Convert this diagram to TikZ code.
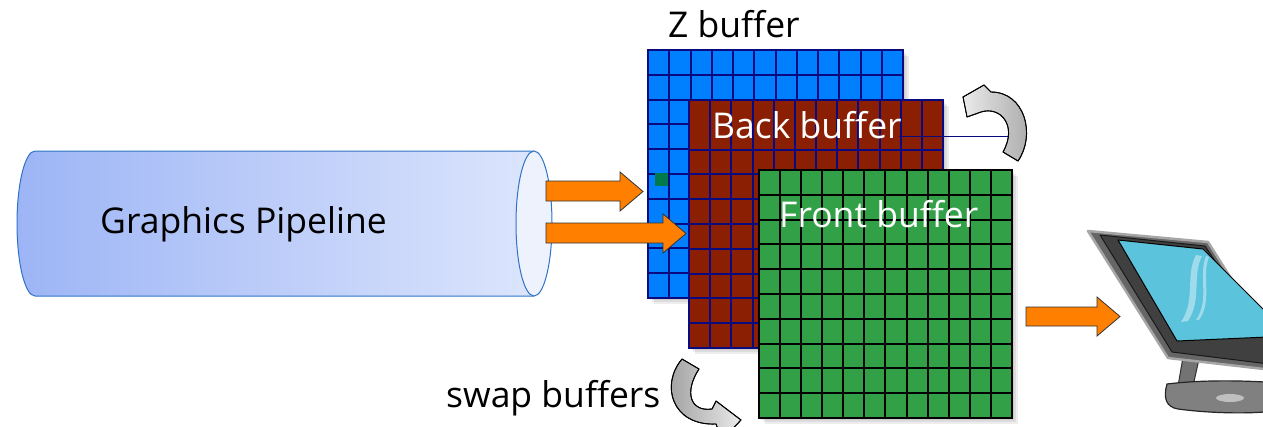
\documentclass[tikz,border=0pt]{standalone}
\usepackage{fontspec}
\setmainfont{Open Sans}
\definecolor{zblue}{HTML}{0080FF}
\definecolor{gridnavy}{HTML}{0A0A80}
\definecolor{backred}{HTML}{8B1F03}
\definecolor{frontgreen}{HTML}{32A046}
\definecolor{darkgreen}{HTML}{007A4A}
\definecolor{pipeL}{HTML}{9DB5F6}
\definecolor{pipeR}{HTML}{DCE5FC}
\definecolor{pipeFace}{HTML}{EEF2FD}
\definecolor{pipeEdge}{HTML}{2F74C4}
\definecolor{arroworange}{HTML}{FF8000}
\definecolor{screencyan}{HTML}{5CC3DC}
\definecolor{screenglare}{HTML}{9FDCEB}
\begin{document}
\begin{tikzpicture}[x=1pt,y=-1pt,
  lbl/.style={inner sep=0pt, anchor=base west},
  bigtext/.style={lbl, font=\fontsize{35.5}{42}\selectfont},
  navyline/.style={draw=gridnavy, line width=2pt},
  blackline/.style={draw=black, line width=2pt},
  blockarrow/.style={fill=arroworange, draw=black!80, line width=0.8pt, line join=miter},
  swaparrow/.style={draw=black, line width=0.9pt, line join=round},
  softshadow/.style={fill=black, opacity=0.07}]

\useasboundingbox (0,0) rectangle (1263,426);
\clip (0,0) rectangle (1263,426);

% ---------- graphics pipeline cylinder ----------
\shade[left color=pipeL, right color=pipeR]
  (534,151) -- (35,151) arc[start angle=270, end angle=90, x radius=18, y radius=72.5]
  -- (534,296) -- cycle;
\draw[pipeEdge, line width=1pt]
  (534,151) -- (35,151) arc[start angle=270, end angle=90, x radius=18, y radius=72.5]
  -- (534,296);
\draw[pipeEdge, line width=1pt, fill=pipeFace] (534,223.5) ellipse[x radius=18, y radius=72.5];
\node[bigtext] (pipeline) at (100,233) {Graphics Pipeline};

% ---------- Z buffer ----------
\foreach \s in {2,4,6} \fill[softshadow] ({648+\s},{50+\s}) rectangle ({903+\s},{298+\s});
\node[fill=zblue, inner sep=0pt, minimum width=255pt, minimum height=248pt, anchor=north west] (zbuf) at (648,50) {};
\foreach \i in {1,...,11} \draw[navyline] ({648+\i*21.25},50) -- ({648+\i*21.25},298);
\foreach \j in {1,...,9} \draw[navyline] (648,{50+\j*24.8}) -- (903,{50+\j*24.8});
\draw[navyline] (648,50) rectangle (903,298);
\fill[darkgreen] (655,173) rectangle (668,186);
\node[bigtext] (zlabel) at (668,37) {Z buffer};

% ---------- back buffer ----------
\foreach \s in {2,4,6} \fill[softshadow] ({689+\s},{100+\s}) rectangle ({943+\s},{348+\s});
\node[fill=backred, inner sep=0pt, minimum width=254pt, minimum height=248pt, anchor=north west] (backbuf) at (689,100) {};
\foreach \i in {1,...,11} \draw[navyline] ({689+\i*21.17},100) -- ({689+\i*21.17},348);
\foreach \j in {2,...,9} \draw[navyline] (689,{100+\j*24.8}) -- (943,{100+\j*24.8});
\draw[navyline] (689,100) rectangle (943,348);
\coordinate (tabend) at (1012,136.5);
\draw[draw=gridnavy, line width=1.6pt] (899,136.5) -- (tabend);
\node[bigtext, text=white] (backlabel) at (712,138) {Back buffer};

% ---------- front buffer ----------
\foreach \s in {2,4,6} \fill[softshadow] ({759+\s},{170+\s}) rectangle ({1012+\s},{418+\s});
\node[fill=frontgreen, inner sep=0pt, minimum width=253pt, minimum height=248pt, anchor=north west] (frontbuf) at (759,170) {};
\foreach \i in {1,...,11} \draw[blackline] ({759+\i*21.08},170) -- ({759+\i*21.08},418);
\foreach \j in {1,...,9} \draw[blackline] (759,{170+\j*24.8}) -- (1012,{170+\j*24.8});
\draw[blackline] (759,170) rectangle (1012,418);
\node[bigtext, text=white] (frontlabel) at (779,227) {Front buffer};

% ---------- block arrows ----------
\filldraw[blockarrow] (546,181) -- (620,181) -- (620,172) -- (643,191.5) -- (620,211) -- (620,201) -- (546,201) -- cycle;
\filldraw[blockarrow] (546,223) -- (663,223) -- (663,214) -- (686,233.5) -- (663,253) -- (663,243) -- (546,243) -- cycle;
\filldraw[blockarrow] (1026,307) -- (1097,307) -- (1097,297) -- (1120,316.5) -- (1097,336) -- (1097,326) -- (1026,326) -- cycle;

% ---------- swap arrows ----------
\shade[left color=black!8, right color=black!35, swaparrow]
  (963,97) -- (967,117) -- (981,112)
  .. controls (1000,106) and (1018,125) .. (1003,152)
  -- (1018,161)
  .. controls (1036,135) and (1025,92) .. (991,92)
  -- (984,85) -- cycle;
\draw[swaparrow] (963,97) -- (967,117) -- (981,112)
  .. controls (1000,106) and (1018,125) .. (1003,152)
  -- (1018,161)
  .. controls (1036,135) and (1025,92) .. (991,92)
  -- (984,85) -- cycle;

\shade[left color=black!40, right color=black!8, swaparrow]
  (682,359) -- (699,369)
  .. controls (684,392) and (690,412) .. (712,409)
  -- (716,401) -- (741,420) -- (722,440) -- (716,424)
  .. controls (672,426) and (660,385) .. (682,359);
\draw[swaparrow]
  (682,359) -- (699,369)
  .. controls (684,392) and (690,412) .. (712,409)
  -- (716,401) -- (741,420) -- (722,440) -- (716,424)
  .. controls (672,426) and (660,385) .. (682,359);
\node[bigtext] (swaplabel) at (446,407) {swap buffers};

% ---------- monitor ----------
% stand
\filldraw[fill=black!55, draw=black!80, line width=1pt]
  (1183,357) -- (1199,359) -- (1193,386) -- (1178,386) -- cycle;
\filldraw[fill=black!50, draw=black!85, line width=1.2pt]
  (1167,384) .. controls (1163,398) and (1166,407) .. (1178,409)
  .. controls (1215,414) and (1260,414) .. (1280,410)
  -- (1280,383) .. controls (1240,380) and (1200,380) .. (1167,384) -- cycle;
\fill[black!25] (1230,398) ellipse[x radius=14, y radius=4];
% frame
\filldraw[fill=black!60, draw=black!35, line width=2.5pt, line join=round]
  (1088,231) -- (1208,242) -- (1290,372) -- (1168,358) -- cycle;
\filldraw[fill=black!75, draw=black!90, line width=1pt, line join=round]
  (1100,235) -- (1205,246) -- (1285,366) -- (1172,352) -- cycle;
% screen
\filldraw[fill=screencyan, draw=black, line width=1pt, line join=round]
  (1118,240) -- (1203,249) -- (1290,336) -- (1177,341) -- cycle;
\fill[screenglare]
  (1196,255) .. controls (1185,275) and (1196,300) .. (1181,322)
  -- (1188,321) .. controls (1202,300) and (1192,275) .. (1202,256) -- cycle;
\fill[screenglare]
  (1206,256) .. controls (1198,276) and (1210,300) .. (1196,320)
  -- (1199,320) .. controls (1213,300) and (1201,276) .. (1209,257) -- cycle;
\end{tikzpicture}
\end{document}
